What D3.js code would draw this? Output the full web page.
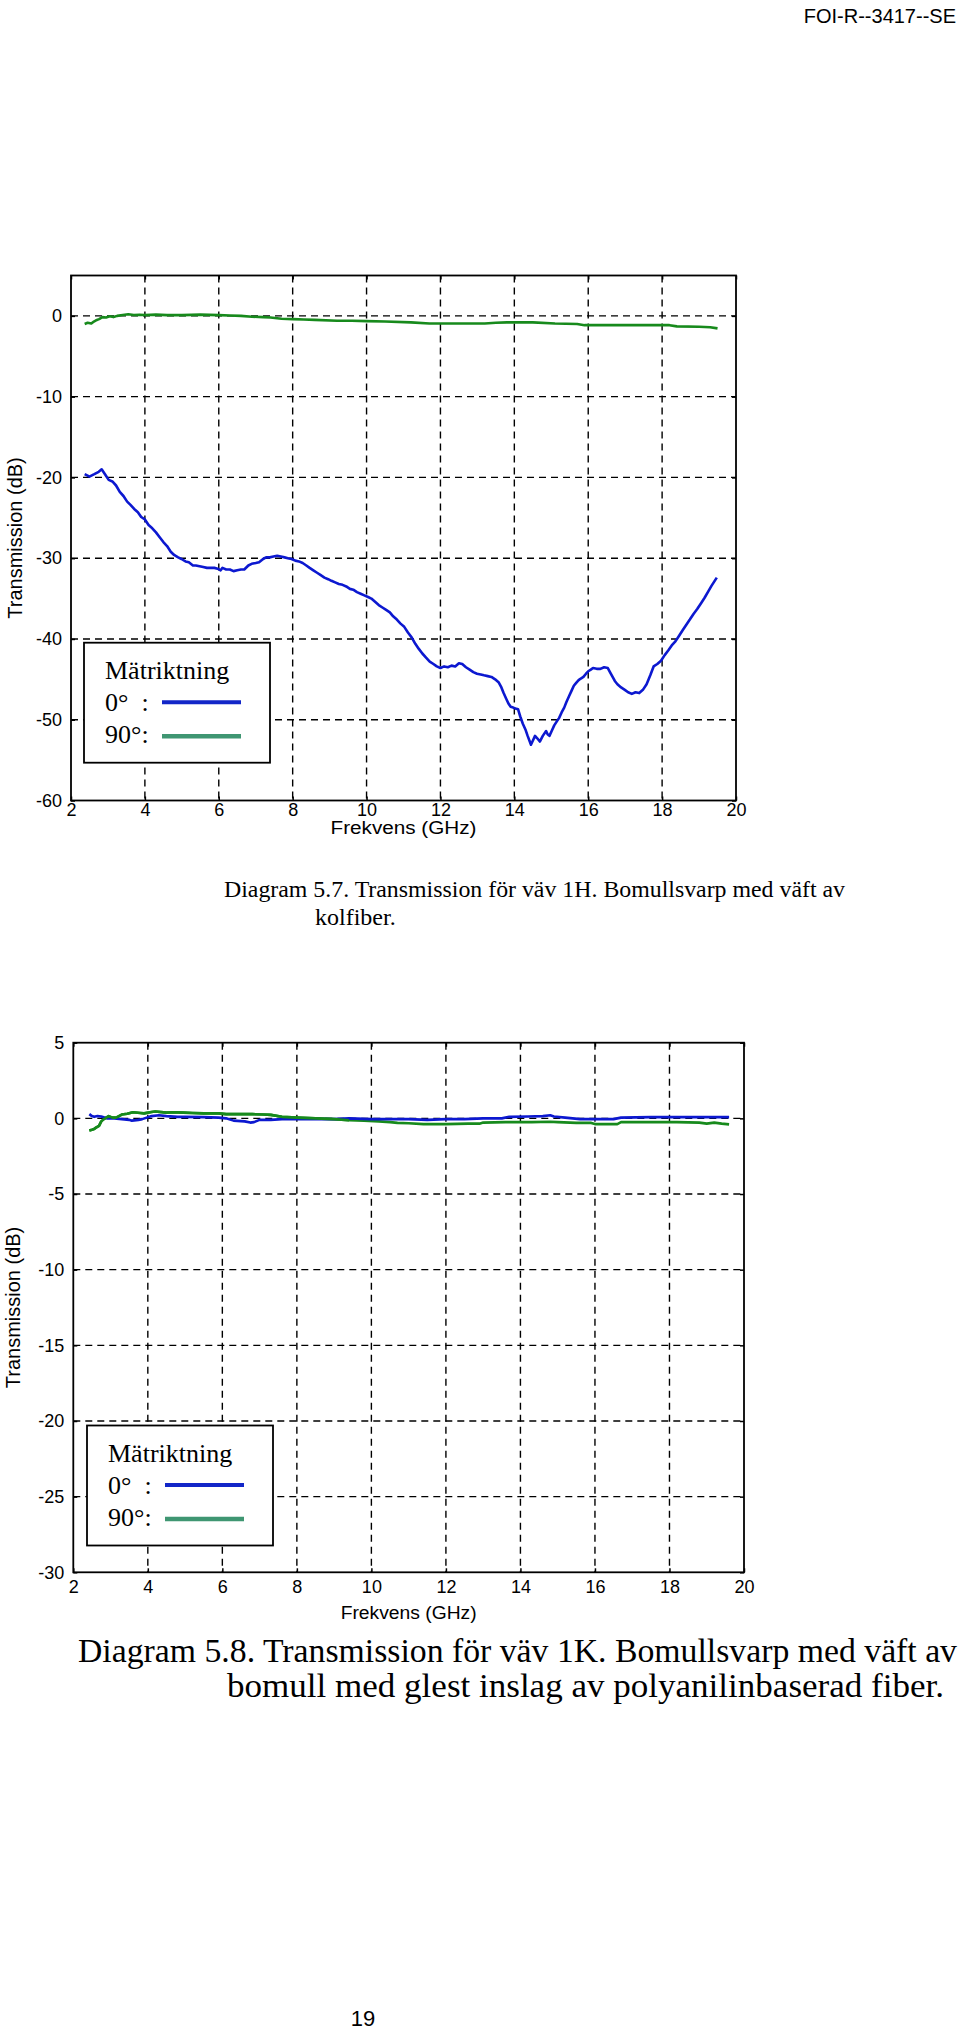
<!DOCTYPE html>
<html><head><meta charset="utf-8">
<script src="https://cdn.jsdelivr.net/npm/d3@7"></script>
<style>body{margin:0;background:#fff}</style>
</head><body>
<svg id="page" width="960" height="2033" style="display:block;background:#fff"></svg>
<script>
// ---------- data ----------
const xTicks = [2, 4, 6, 8, 10, 12, 14, 16, 18, 20];
const yTicks1 = [0, -10, -20, -30, -40, -50, -60];
const yTicks2 = [5, 0, -5, -10, -15, -20, -25, -30];
const legendTitle = "Mätriktning";
const legendLabels = ["0°  :", "90°:"];

// Diagram 5.7 (väv 1H) - 0 degrees
const blue1 = [[2.37,-19.6],[2.5,-19.9],[2.63,-19.6],[2.75,-19.3],[2.83,-19.0],[2.92,-19.6],[3.02,-20.3],[3.12,-20.5],[3.22,-21.0],[3.32,-21.8],[3.42,-22.3],[3.52,-23.0],[3.61,-23.4],[3.71,-23.9],[3.81,-24.3],[3.9,-24.9],[4.0,-25.2],[4.1,-25.9],[4.2,-26.3],[4.3,-26.8],[4.4,-27.4],[4.5,-28.0],[4.6,-28.5],[4.7,-29.2],[4.79,-29.6],[4.9,-29.9],[4.99,-30.1],[5.1,-30.4],[5.19,-30.5],[5.3,-30.9],[5.38,-30.9],[5.48,-31.0],[5.58,-31.1],[5.68,-31.2],[5.78,-31.2],[5.88,-31.2],[5.97,-31.3],[6.05,-31.5],[6.1,-31.2],[6.2,-31.4],[6.3,-31.4],[6.4,-31.6],[6.5,-31.5],[6.6,-31.4],[6.69,-31.4],[6.8,-30.9],[6.89,-30.7],[7.0,-30.6],[7.09,-30.5],[7.2,-30.1],[7.28,-29.9],[7.38,-29.9],[7.48,-29.8],[7.58,-29.7],[7.68,-29.8],[7.78,-29.9],[7.87,-30.0],[7.97,-30.1],[8.07,-30.3],[8.17,-30.4],[8.27,-30.6],[8.37,-30.9],[8.46,-31.2],[8.56,-31.5],[8.66,-31.8],[8.76,-32.1],[8.86,-32.4],[8.96,-32.6],[9.05,-32.8],[9.15,-33.0],[9.25,-33.2],[9.35,-33.3],[9.45,-33.5],[9.55,-33.8],[9.64,-33.9],[9.74,-34.2],[9.84,-34.4],[9.94,-34.6],[10.04,-34.8],[10.13,-35.0],[10.23,-35.4],[10.33,-35.8],[10.43,-36.1],[10.53,-36.4],[10.63,-36.7],[10.72,-37.2],[10.82,-37.6],[10.92,-38.1],[11.02,-38.5],[11.12,-39.2],[11.22,-39.8],[11.32,-40.6],[11.41,-41.2],[11.51,-41.8],[11.61,-42.3],[11.71,-42.8],[11.81,-43.1],[11.9,-43.4],[12.0,-43.6],[12.1,-43.4],[12.2,-43.5],[12.3,-43.3],[12.4,-43.4],[12.5,-43.0],[12.59,-43.1],[12.69,-43.5],[12.79,-43.8],[12.89,-44.1],[12.99,-44.3],[13.09,-44.4],[13.18,-44.5],[13.28,-44.6],[13.38,-44.7],[13.48,-45.0],[13.58,-45.4],[13.65,-46.0],[13.71,-46.7],[13.78,-47.4],[13.84,-48.0],[13.9,-48.4],[13.97,-48.5],[14.03,-48.6],[14.1,-48.7],[14.16,-49.6],[14.23,-50.5],[14.3,-51.2],[14.36,-52.0],[14.41,-52.6],[14.45,-53.1],[14.5,-52.6],[14.56,-52.0],[14.62,-52.3],[14.69,-52.7],[14.77,-52.0],[14.86,-51.4],[14.9,-51.8],[14.95,-52.0],[15.02,-51.3],[15.08,-50.7],[15.15,-50.2],[15.21,-49.8],[15.28,-49.1],[15.35,-48.5],[15.41,-47.8],[15.48,-47.1],[15.55,-46.4],[15.61,-45.8],[15.68,-45.4],[15.74,-45.1],[15.8,-44.9],[15.87,-44.7],[15.94,-44.3],[16.0,-44.0],[16.07,-43.8],[16.13,-43.6],[16.23,-43.7],[16.33,-43.7],[16.43,-43.5],[16.53,-43.6],[16.6,-44.2],[16.66,-44.7],[16.72,-45.2],[16.79,-45.6],[16.89,-46.0],[16.99,-46.3],[17.08,-46.6],[17.18,-46.8],[17.28,-46.6],[17.38,-46.7],[17.48,-46.3],[17.58,-45.6],[17.68,-44.5],[17.77,-43.4],[17.87,-43.1],[17.97,-42.7],[18.07,-42.0],[18.17,-41.4],[18.26,-40.8],[18.36,-40.3],[18.46,-39.6],[18.56,-38.9],[18.66,-38.2],[18.75,-37.6],[18.85,-36.9],[18.95,-36.3],[19.05,-35.6],[19.15,-34.9],[19.25,-34.1],[19.34,-33.4],[19.41,-32.9],[19.48,-32.4]];

// Diagram 5.7 (väv 1H) - 90 degrees
const green1 = [[2.37,-1.0],[2.45,-0.85],[2.55,-0.95],[2.62,-0.7],[2.7,-0.5],[2.76,-0.4],[2.85,-0.15],[2.95,-0.2],[3.05,-0.05],[3.15,-0.15],[3.25,0.0],[3.4,0.1],[3.55,0.2],[3.7,0.1],[3.85,0.15],[4.0,0.1],[4.3,0.15],[4.6,0.1],[5.0,0.1],[5.5,0.15],[6.0,0.1],[6.3,0.05],[6.6,0.0],[6.9,-0.1],[7.2,-0.15],[7.4,-0.2],[7.7,-0.35],[8.0,-0.4],[8.3,-0.45],[8.6,-0.5],[9.2,-0.6],[9.6,-0.6],[10.0,-0.65],[10.5,-0.7],[11.2,-0.8],[11.7,-0.95],[12.5,-0.95],[13.2,-0.95],[13.5,-0.85],[13.8,-0.8],[14.5,-0.8],[15.1,-0.95],[15.7,-1.0],[15.9,-1.15],[16.5,-1.15],[17.1,-1.15],[17.7,-1.15],[18.2,-1.15],[18.4,-1.3],[19.0,-1.35],[19.3,-1.4],[19.5,-1.55]];

// Diagram 5.8 (väv 1K) - 0 degrees
const blue2 = [[2.43,0.28],[2.5,0.15],[2.56,0.1],[2.65,0.15],[2.75,0.12],[2.9,0.0],[3.1,0.0],[3.3,-0.05],[3.5,-0.1],[3.57,-0.15],[3.75,-0.1],[3.85,-0.05],[4.1,0.15],[4.3,0.2],[4.5,0.15],[4.8,0.1],[5.0,0.1],[5.5,0.08],[5.9,0.05],[6.1,0.0],[6.3,-0.15],[6.5,-0.18],[6.6,-0.2],[6.75,-0.28],[6.85,-0.25],[7.0,-0.1],[7.3,-0.1],[7.6,-0.05],[8.0,-0.05],[8.5,-0.05],[9.0,-0.05],[9.4,0.0],[10.0,-0.05],[10.5,-0.05],[11.0,-0.05],[11.5,-0.1],[12.0,-0.05],[12.5,-0.05],[13.0,0.0],[13.5,0.0],[13.7,0.1],[14.2,0.12],[14.6,0.15],[14.8,0.2],[14.9,0.12],[15.2,0.05],[15.6,-0.05],[16.0,-0.05],[16.5,-0.05],[16.7,0.05],[17.5,0.08],[18.5,0.08],[19.6,0.08]];

// Diagram 5.8 (väv 1K) - 90 degrees
const green2 = [[2.43,-0.8],[2.5,-0.75],[2.56,-0.7],[2.62,-0.6],[2.69,-0.5],[2.75,-0.2],[2.82,-0.05],[2.95,0.15],[3.05,0.05],[3.15,0.05],[3.3,0.25],[3.45,0.3],[3.6,0.4],[3.8,0.35],[3.9,0.33],[4.1,0.42],[4.2,0.45],[4.5,0.38],[4.7,0.4],[4.95,0.38],[5.2,0.35],[5.5,0.33],[5.9,0.33],[6.1,0.28],[6.5,0.28],[6.8,0.28],[7.1,0.25],[7.3,0.23],[7.6,0.1],[8.0,0.05],[8.5,0.0],[9.0,-0.05],[9.4,-0.12],[9.8,-0.15],[10.2,-0.2],[10.5,-0.25],[10.7,-0.3],[11.0,-0.32],[11.4,-0.38],[12.0,-0.38],[12.6,-0.35],[12.9,-0.35],[13.0,-0.28],[13.6,-0.25],[14.3,-0.25],[14.8,-0.22],[15.0,-0.25],[15.5,-0.3],[15.9,-0.3],[16.0,-0.38],[16.6,-0.38],[16.7,-0.25],[17.5,-0.25],[18.2,-0.25],[18.8,-0.28],[19.0,-0.35],[19.2,-0.28],[19.4,-0.35],[19.6,-0.4]];

// ---------- drawing ----------
const svg = d3.select("#page");
const SANS = "'Liberation Sans', Arial, sans-serif";
const SERIF = "'Liberation Serif', 'Times New Roman', serif";
const DATA_BLUE = "#0c18d0", DATA_GREEN = "#178a1c";
const LEG_BLUE = "#1226c8", LEG_GREEN = "#3f9672";
const fmt = d => String(d);

function drawChart(cfg) {
  const g = svg.append("g");
  const x = d3.scaleLinear().domain([2, 20]).range([cfg.left, cfg.right]);
  const y = d3.scaleLinear().domain(cfg.yDomain).range([cfg.bottom, cfg.top]);

  // grid
  const gridX = xTicks.filter(t => t > 2 && t < 20);
  const gridY = cfg.yTicks.filter(t => t > cfg.yDomain[0] && t < cfg.yDomain[1]);
  g.selectAll(".gx").data(gridX).join("line")
    .attr("x1", d => x(d)).attr("x2", d => x(d))
    .attr("y1", cfg.top).attr("y2", cfg.bottom)
    .attr("stroke", "#000").attr("stroke-width", 1.4).attr("stroke-dasharray", "7,5");
  g.selectAll(".gy").data(gridY).join("line")
    .attr("y1", d => y(d)).attr("y2", d => y(d))
    .attr("x1", cfg.left).attr("x2", cfg.right)
    .attr("stroke", "#000").attr("stroke-width", 1.4).attr("stroke-dasharray", "7,5");

  // axes with inward ticks
  const axB = d3.axisBottom(x).tickValues(xTicks).tickSize(-4).tickPadding(cfg.xPad).tickFormat(fmt);
  const axT = d3.axisTop(x).tickValues(xTicks).tickSize(-4).tickFormat("");
  const axL = d3.axisLeft(y).tickValues(cfg.yLabels).tickSize(-4).tickPadding(9).tickFormat(fmt);
  const axR = d3.axisRight(y).tickValues(cfg.yLabels).tickSize(-4).tickFormat("");
  function style(sel) {
    sel.select(".domain").remove();
    sel.selectAll("line").attr("stroke", "#000").attr("stroke-width", 1.5);
    sel.selectAll("text").attr("font-family", SANS).attr("font-size", 18).attr("fill", "#000");
  }
  g.append("g").attr("transform", `translate(0,${cfg.bottom})`).call(axB).call(style);
  g.append("g").attr("transform", `translate(0,${cfg.top})`).call(axT).call(style);
  g.append("g").attr("transform", `translate(${cfg.left},0)`).call(axL).call(style);
  g.append("g").attr("transform", `translate(${cfg.right},0)`).call(axR).call(style);
  g.append("rect").attr("x", cfg.left).attr("y", cfg.top)
    .attr("width", cfg.right - cfg.left).attr("height", cfg.bottom - cfg.top)
    .attr("fill", "none").attr("stroke", "#000").attr("stroke-width", 1.8);

  // series
  const line = d3.line().x(d => x(d[0])).y(d => y(d[1]));
  g.append("path").datum(cfg.green).attr("d", line).attr("fill", "none")
    .attr("stroke", DATA_GREEN).attr("stroke-width", 2.6).attr("stroke-linejoin", "round");
  g.append("path").datum(cfg.blue).attr("d", line).attr("fill", "none")
    .attr("stroke", DATA_BLUE).attr("stroke-width", 2.6).attr("stroke-linejoin", "round");
  if (cfg.greenOnTop) {
    g.append("path").datum(cfg.green.filter(d => d[0] < 9.5)).attr("d", line).attr("fill", "none")
      .attr("stroke", DATA_GREEN).attr("stroke-width", 2.6).attr("stroke-linejoin", "round");
  }

  // axis titles
  g.append("text").attr("x", (cfg.left + cfg.right) / 2).attr("y", cfg.xTitleY)
    .attr("text-anchor", "middle").attr("font-family", SANS).attr("font-size", 18)
    .attr("textLength", cfg.xTitleW).attr("lengthAdjust", "spacingAndGlyphs")
    .text("Frekvens (GHz)");
  g.append("text").attr("transform", `translate(${cfg.yTitleX},${(cfg.top + cfg.bottom) / 2}) rotate(-90)`)
    .attr("text-anchor", "middle").attr("font-family", SANS).attr("font-size", 20)
    .text("Transmission (dB)");

  // legend
  const L = cfg.legend;
  const lg = g.append("g").attr("transform", `translate(${L.x},${L.y})`);
  lg.append("rect").attr("width", 186).attr("height", 120).attr("fill", "#fff")
    .attr("stroke", "#000").attr("stroke-width", 1.8);
  lg.append("text").attr("x", 21).attr("y", 36).attr("font-family", SERIF).attr("font-size", 26).text(legendTitle);
  lg.append("text").attr("x", 21).attr("y", 68).attr("font-family", SERIF).attr("font-size", 26)
    .attr("xml:space", "preserve").style("white-space", "pre").text(legendLabels[0]);
  lg.append("text").attr("x", 21).attr("y", 100).attr("font-family", SERIF).attr("font-size", 26).text(legendLabels[1]);
  lg.append("line").attr("x1", 78).attr("x2", 157).attr("y1", 59.5).attr("y2", 59.5)
    .attr("stroke", LEG_BLUE).attr("stroke-width", 4);
  lg.append("line").attr("x1", 78).attr("x2", 157).attr("y1", 93.5).attr("y2", 93.5)
    .attr("stroke", LEG_GREEN).attr("stroke-width", 4.5);

  // caption
  cfg.caption.forEach(c => {
    const t = svg.append("text").attr("x", c.x).attr("y", c.y).attr("font-family", SERIF)
      .attr("font-size", c.size).text(c.text);
    if (c.w) t.attr("textLength", c.w).attr("lengthAdjust", "spacingAndGlyphs");
  });
}

// header & page number
svg.append("text").attr("x", 956).attr("y", 23).attr("text-anchor", "end")
  .attr("font-family", SANS).attr("font-size", 20).text("FOI-R--3417--SE");
svg.append("text").attr("x", 363).attr("y", 2026).attr("text-anchor", "middle")
  .attr("font-family", SANS).attr("font-size", 22).text("19");

drawChart({
  left: 71, right: 736, top: 275.5, bottom: 800.5,
  yDomain: [-60, 5], yTicks: yTicks1, yLabels: yTicks1,
  blue: blue1, green: green1, xPad: 3,
  xTitleY: 834, xTitleW: 146, yTitleX: 22,
  legend: {x: 84, y: 642.7},
  caption: [
    {x: 224, y: 897, size: 24, w: 621, text: "Diagram 5.7. Transmission för väv 1H. Bomullsvarp med väft av"},
    {x: 315, y: 925, size: 24, text: "kolfiber."}
  ]
});

drawChart({
  left: 73.3, right: 744, top: 1042.7, bottom: 1572.3,
  yDomain: [-30, 5], yTicks: yTicks2, yLabels: yTicks2,
  blue: blue2, green: green2, greenOnTop: true, xPad: 8,
  xTitleY: 1619, xTitleW: 136, yTitleX: 20,
  legend: {x: 87, y: 1425.5},
  caption: [
    {x: 78, y: 1662, size: 33, w: 879, text: "Diagram 5.8. Transmission för väv 1K. Bomullsvarp med väft av"},
    {x: 227, y: 1697, size: 33, w: 717, text: "bomull med glest inslag av polyanilinbaserad fiber."}
  ]
});
</script>
</body></html>
